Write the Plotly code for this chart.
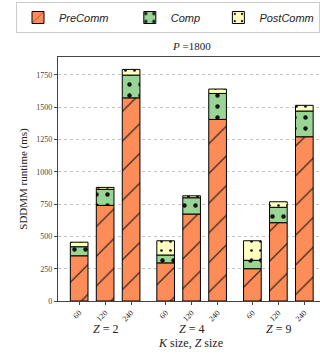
import plotly.graph_objects as go

z_groups = ["2", "4", "9"]
k_sizes = ["60", "120", "240"]
x_pos = [0, 1, 2, 3.33, 4.33, 5.33, 6.67, 7.67, 8.67]
group_centers = [1, 4.33, 7.67]

pre_comm = [350, 740, 1572, 295, 673, 1405, 250, 606, 1271]
comp = [70, 124, 176, 61, 126, 201, 65, 119, 199]
post_comm = [35, 15, 44, 110, 15, 34, 151, 43, 44]

tick_labels = k_sizes * 3
y_ticks = [0, 250, 500, 750, 1000, 1250, 1500, 1750]

serif = "Liberation Serif"
sans = "Liberation Sans"

fig = go.Figure()

nb = "\u00a0"
series = [
    ("<i>PreComm</i>" + nb * 5, pre_comm, "#fc8d59", "/", 21, 0.05),
    ("<i>Comp</i>" + nb * 4, comp, "#99d594", ".", 11, 0.13),
    ("<i>PostComm</i>", post_comm, "#ffffbf", ".", 9, 0.07),
]
base = [0] * len(x_pos)
for name, vals, col, shp, sz, sol in series:
    fig.add_trace(go.Bar(
        x=x_pos, y=vals, base=base, name=name, width=0.68,
        marker=dict(color=col, line=dict(color="black", width=1),
                    pattern=dict(shape=shp, fgcolor="#111", bgcolor=col,
                                 size=sz, solidity=sol, fillmode="replace")),
    ))
    base = [b + v for b, v in zip(base, vals)]

L, T, B = 57.7, 57, 301
W, H = 320, 356
ph = B - T
pw = W - L

def py(y):
    return (B - y) / ph

def px(x):
    return (x - L) / pw

annotations = []
for zc, zg in zip(group_centers, z_groups):
    annotations.append(dict(x=zc, y=py(329), xref="x", yref="paper",
                            text=f"<i>Z</i> = {zg}", showarrow=False,
                            font=dict(family=serif, size=12, color="#222"),
                            xanchor="center", yanchor="middle"))
annotations.append(dict(x=px(190), y=py(343), xref="paper", yref="paper",
                        text="<i>K</i> size, <i>Z</i> size", showarrow=False,
                        font=dict(family=serif, size=12, color="#222"),
                        xanchor="center", yanchor="middle"))
annotations.append(dict(x=px(191.7), y=py(46), xref="paper", yref="paper",
                        text="<i>P</i> =1800", showarrow=False,
                        font=dict(family=serif, size=11, color="#222"),
                        xanchor="center", yanchor="middle"))

fig.update_layout(
    width=W, height=H,
    margin=dict(l=L, r=0, t=T, b=H - B, pad=0),
    barmode="overlay",
    plot_bgcolor="white", paper_bgcolor="white",
    annotations=annotations,
    showlegend=True,
    legend=dict(orientation="h", x=px(18), y=py(2), xanchor="left", yanchor="top",
                bordercolor="#cccccc", borderwidth=1, bgcolor="white",
                font=dict(family=sans, size=11, color="#222"),
                traceorder="normal", itemwidth=32),
    xaxis=dict(range=[-0.815, (W - L) / 26 - 0.815], tickvals=x_pos, ticktext=tick_labels,
               tickangle=-45, tickfont=dict(family=serif, size=8, color="#222"),
               showline=True, linecolor="#444", linewidth=1.2, mirror=True,
               ticks="outside", ticklen=3, tickcolor="#444", showgrid=False,
               zeroline=False),
    yaxis=dict(range=[0, 1888], tickvals=y_ticks,
               tickfont=dict(family=serif, size=8, color="#444"),
               showline=True, linecolor="#444", linewidth=1.2,
               ticks="outside", ticklen=3, tickcolor="#444",
               showgrid=True, gridcolor="#c4c4c4", griddash="dot", gridwidth=1,
               zeroline=False,
               title=dict(text="SDDMM runtime (ms)", font=dict(family=serif, size=11, color="#222"),
                          standoff=6)),
)

fig.write_html("out.html")
